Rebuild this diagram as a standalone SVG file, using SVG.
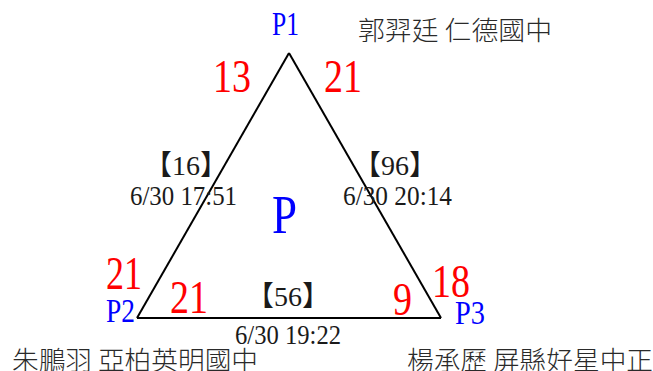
<svg xmlns="http://www.w3.org/2000/svg" width="653" height="371" viewBox="0 0 653 371">
<style>
.num{font-family:"Liberation Serif","Noto Sans CJK TC",serif;}
.red{fill:#ff0000;font-size:46px;}
.blue{fill:#0000ff;font-size:34px;}
.lbl{fill:#1a1a1a;font-size:28px;}
.name{font-family:"Noto Sans CJK TC","Noto Sans CJK SC",sans-serif;font-size:26px;font-weight:300;fill:#2a2a2a;}
.edge{stroke:#000;stroke-width:2;fill:none;}
</style>
<rect width="653" height="371" fill="#fff"/>
<g id="connectors">
<line class="edge" x1="289" y1="53" x2="137" y2="318"/>
<line class="edge" x1="289" y1="53" x2="441" y2="318"/>
<line class="edge" x1="137" y1="318" x2="441" y2="318"/>
</g>
<g id="edge-labels">
<text class="num lbl" x="186" y="175" text-anchor="middle">【16】</text>
<text class="num lbl" x="130" y="205" textLength="107" lengthAdjust="spacingAndGlyphs">6/30 17:51</text>
<text class="num lbl" x="395" y="175" text-anchor="middle">【96】</text>
<text class="num lbl" x="343" y="205" textLength="109" lengthAdjust="spacingAndGlyphs">6/30 20:14</text>
<text class="num lbl" x="288" y="306" text-anchor="middle">【56】</text>
<text class="num lbl" x="235" y="344" textLength="106" lengthAdjust="spacingAndGlyphs">6/30 19:22</text>
</g>
<g id="P1">
<text class="num blue" x="272" y="35" textLength="27" lengthAdjust="spacingAndGlyphs">P1</text>
<text class="num red" x="213" y="92" textLength="38" lengthAdjust="spacingAndGlyphs">13</text>
<text class="num red" x="324" y="92" textLength="38" lengthAdjust="spacingAndGlyphs">21</text>
<text class="name" x="358" y="40" textLength="194" lengthAdjust="spacingAndGlyphs">郭羿廷 仁德國中</text>
</g>
<g id="P2">
<text class="num blue" x="106" y="322" textLength="29" lengthAdjust="spacingAndGlyphs">P2</text>
<text class="num red" x="106" y="289" textLength="36" lengthAdjust="spacingAndGlyphs">21</text>
<text class="num red" x="170" y="313" textLength="38" lengthAdjust="spacingAndGlyphs">21</text>
<text class="name" x="12" y="370" textLength="246" lengthAdjust="spacingAndGlyphs">朱鵬羽 亞柏英明國中</text>
</g>
<g id="P3">
<text class="num blue" x="455" y="324" textLength="30" lengthAdjust="spacingAndGlyphs">P3</text>
<text class="num red" x="393" y="315" textLength="19" lengthAdjust="spacingAndGlyphs">9</text>
<text class="num red" x="432" y="297" textLength="38" lengthAdjust="spacingAndGlyphs">18</text>
<text class="name" x="407" y="370" textLength="246" lengthAdjust="spacingAndGlyphs">楊承歷 屏縣好星中正</text>
</g>
<g id="P">
<text class="num" x="272" y="233" fill="#0000ff" font-size="54" textLength="25" lengthAdjust="spacingAndGlyphs">P</text>
</g>
</svg>
